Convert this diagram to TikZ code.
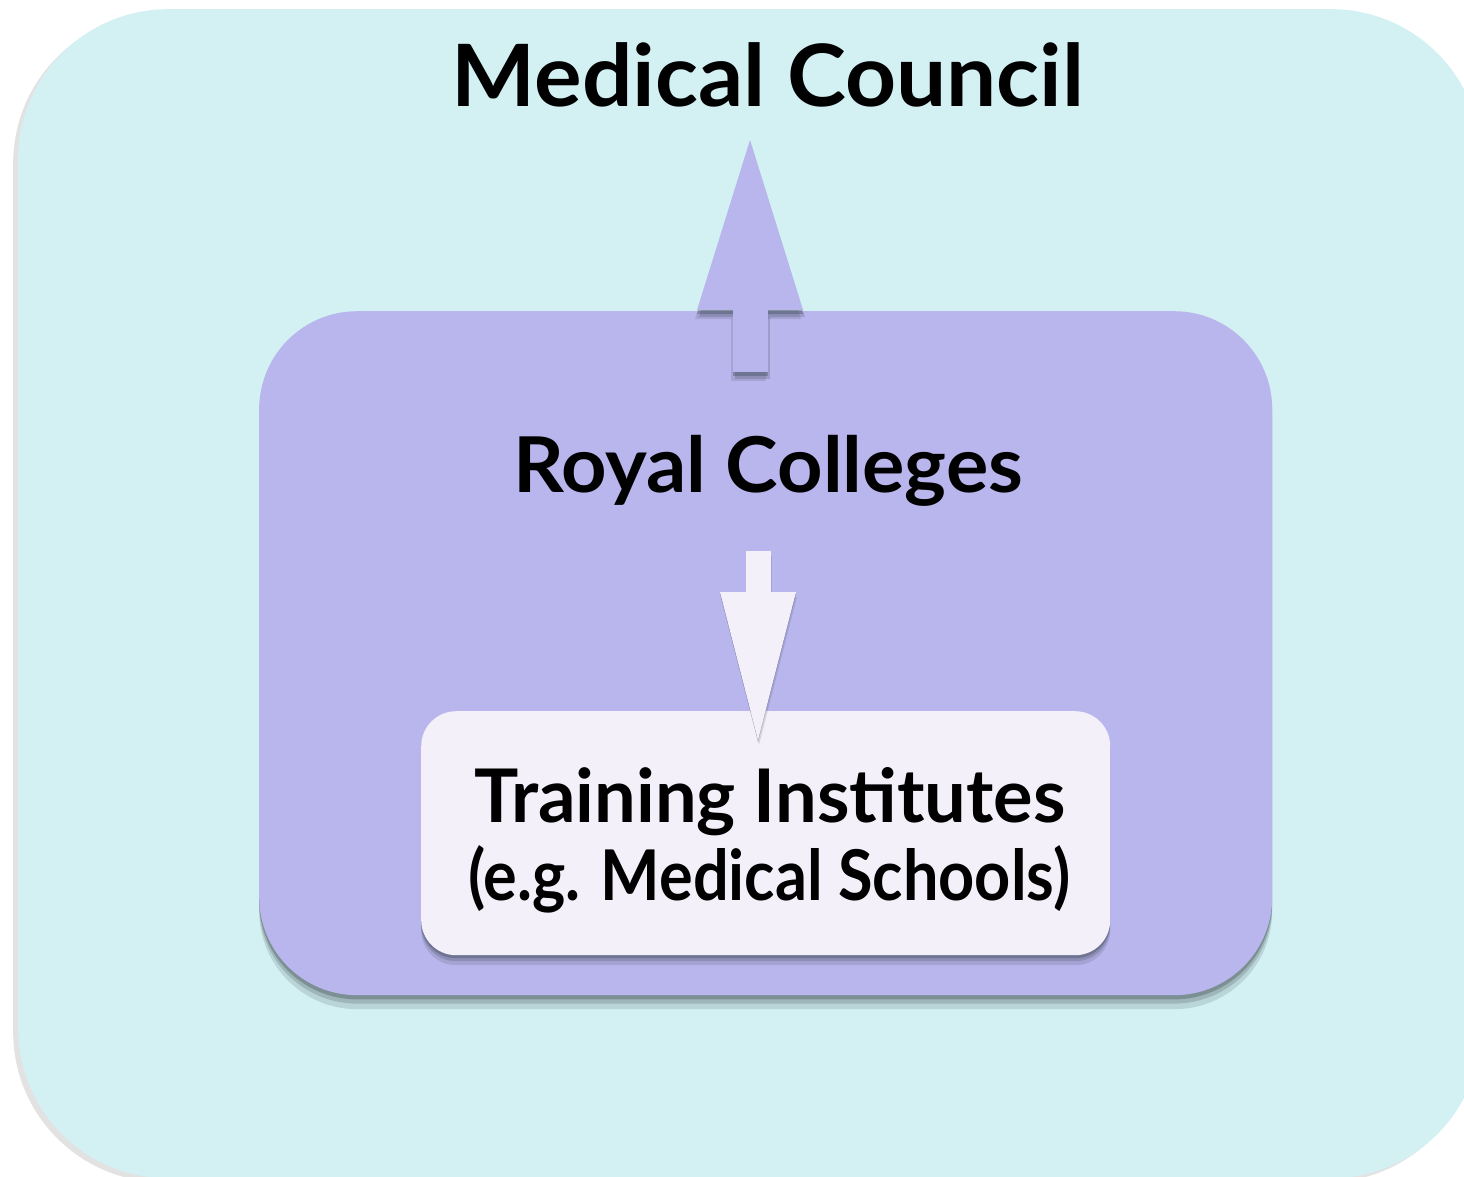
\documentclass[tikz,border=0pt]{standalone}
\usepackage{fontspec}
\setmainfont{Lato}
\usetikzlibrary{positioning,shadows,arrows.meta}

\definecolor{councilcyan}{HTML}{D3F1F3}
\definecolor{collegeviolet}{HTML}{B9B6EE}
\definecolor{institutewhite}{HTML}{F4F0FA}
\definecolor{shadowgrey}{HTML}{2E3A40}

\tikzset{
  roundbox/.style={rectangle, anchor=north west, inner sep=0pt},
  softshadow/.style={
    general shadow={shadow yshift=-#1, fill=shadowgrey, opacity=.15},
    general shadow={shadow yshift=-0.6*#1, fill=shadowgrey, opacity=.2},
    general shadow={shadow yshift=-0.3*#1, fill=shadowgrey, opacity=.3}},
  bigtitle/.style={font=\bfseries\fontsize{86}{96}\selectfont, inner sep=0pt, anchor=base},
  boxtitle/.style={font=\bfseries\fontsize{#1}{#1}\selectfont, inner sep=0pt, anchor=base, align=center},
  uparrow/.style={line width=35pt,
    -{Triangle[width=106pt,length=170pt,line width=0pt]}},
  downarrow/.style={line width=25pt,
    -{Triangle[width=76pt,length=148pt,line width=0pt]}},
  arrowshadow/.style={draw=shadowgrey, opacity=#1},
}

\begin{document}
\begin{tikzpicture}[x=1pt,y=-1pt]
    \useasboundingbox (0,0) rectangle (1464,1177);

    % Outer box: Medical Council
    \node[roundbox, fill=councilcyan, rounded corners=150pt,
          minimum width=1463pt, minimum height=1169pt,
          general shadow={shadow xshift=-5pt, shadow yshift=-4pt, fill=black!25, opacity=.45}]
          (councilbox) at (18,9) {};
    \node[bigtitle, xscale=1.035, transform shape] (council) at (768,107) {Medical Council};

    % Middle box: Royal Colleges
    \node[roundbox, fill=collegeviolet, rounded corners=98pt,
          minimum width=1013pt, minimum height=684pt, softshadow=14pt]
          (collegesbox) at (259,311) {};
    \node[boxtitle=77, xscale=1.03, transform shape] (colleges) at (768,492) {Royal Colleges};

    % Arrow up to the council
    \coordinate (upfoot) at (750,372);
    \coordinate (uptip) at (750,140);
    \draw[uparrow, arrowshadow=.15] ([shift={(-2,9)}]upfoot) -- ([shift={(-2,9)}]uptip);
    \draw[uparrow, arrowshadow=.2] ([shift={(2,7)}]upfoot) -- ([shift={(2,7)}]uptip);
    \draw[uparrow, arrowshadow=.3] ([shift={(0,4)}]upfoot) -- ([shift={(0,4)}]uptip);
    \draw[uparrow, draw=collegeviolet] (upfoot) -- (uptip);

    % Inner box: Training Institutes
    \node[roundbox, fill=institutewhite, rounded corners=35pt,
          minimum width=689pt, minimum height=244pt, softshadow=10pt]
          (institutes) at (421,711) {};
    \node[boxtitle=74, transform shape] (training) at (770,822) {Training Institutes};
    \node[boxtitle=70, xscale=.9, transform shape] (schools) at (769,900) {(e.g. Medical Schools)};

    % Arrow down to the institutes
    \coordinate (downfoot) at (758,551);
    \coordinate (downtip) at (758,740);
    \draw[downarrow, arrowshadow=.15] ([shift={(1,5)}]downfoot) -- ([shift={(1,5)}]downtip);
    \draw[downarrow, arrowshadow=.3] ([shift={(0,2)}]downfoot) -- ([shift={(0,2)}]downtip);
    \draw[downarrow, draw=institutewhite] (downfoot) -- (downtip);
\end{tikzpicture}
\end{document}
